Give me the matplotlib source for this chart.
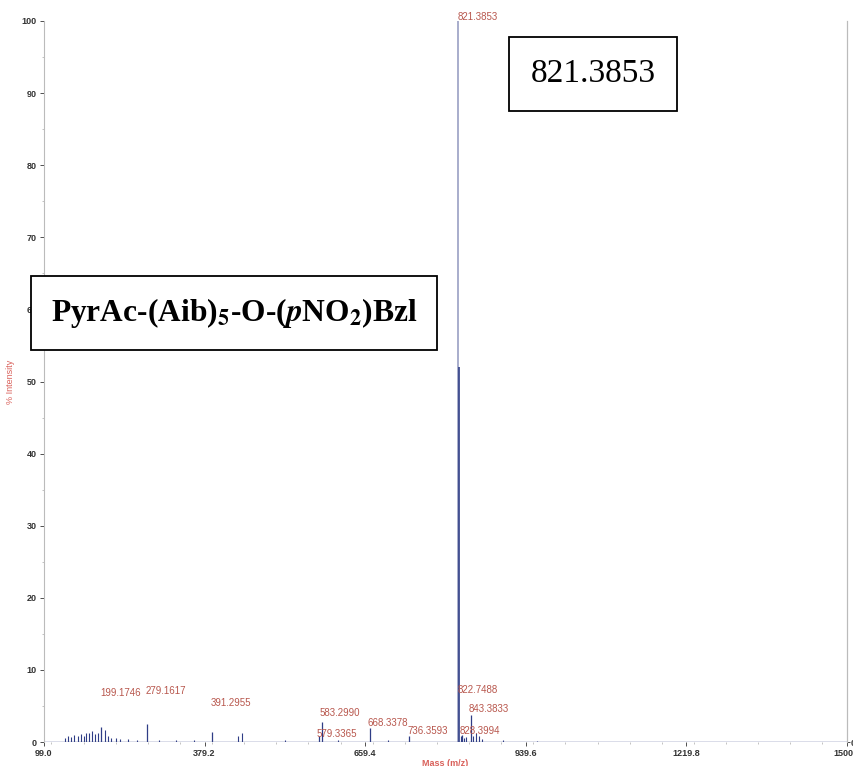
import matplotlib.pyplot as plt
from matplotlib.ticker import MultipleLocator

plt.rcParams['font.family'] = ['Liberation Sans', 'DejaVu Sans']
plt.rcParams['mathtext.fontset'] = 'stix'

# labelled peaks: m/z, % intensity, label position (m/z, %)
peak_mz = [199.1746, 279.1617, 391.2955, 579.3365, 583.2990, 668.3378,
           736.3593, 821.3853, 822.7488, 828.3994, 843.3833]
peak_int = [2.1, 2.5, 1.4, 0.8, 2.8, 1.9, 0.8, 100.0, 52.0, 1.0, 3.7]
label_xy = [(197, 6.8), (277, 7.1), (389, 5.4), (575, 1.1), (579, 4.0),
            (664, 2.6), (734, 1.5), (821, 100.6), (821, 7.2), (825, 1.5),
            (840, 4.6)]

# smaller unlabelled peaks
minor_mz = [135, 141, 147, 152, 158, 163, 168, 172, 177, 183, 188, 193, 205,
            210, 216, 224, 232, 246, 262, 300, 330, 360, 438, 445, 520, 612,
            700, 826, 832, 836, 848, 852, 858, 863, 900, 960]
minor_int = [0.6, 0.8, 0.7, 1.0, 0.9, 1.1, 0.9, 1.2, 1.3, 1.5, 1.1, 1.2, 1.6,
             0.8, 0.6, 0.5, 0.4, 0.4, 0.3, 0.3, 0.3, 0.3, 0.9, 1.2, 0.3, 0.3,
             0.3, 0.8, 0.6, 0.7, 0.9, 1.3, 0.8, 0.4, 0.3, 0.2]

xticks = [99.0, 379.2, 659.4, 939.6, 1219.8, 1500.0]

fig = plt.figure(figsize=(8.54, 7.66), dpi=100)
ax = fig.add_axes([0.0515, 0.0313, 0.9403, 0.9413])

peak_col = '#2f3d86'
ax.vlines(minor_mz, 0, minor_int, color=peak_col, lw=0.8)
for mz, h in zip(peak_mz, peak_int):
    c = '#9aa0c4' if mz == 821.3853 else peak_col
    ax.vlines(mz, 0, h, color=c, lw=1.2 if h > 40 else 0.9)
ax.axhline(0, color='#4a5590', lw=1.0)

for mz, (lx, ly) in zip(peak_mz, label_xy):
    ax.text(lx, ly, f'{mz:.4f}', color='#b8574d', fontsize=7,
            va='center', ha='left', clip_on=False)

ax.set_xlim(99.0, 1500.0)
ax.set_ylim(0, 100)
ax.set_xticks(xticks)
ax.set_xticklabels([f'{t:.1f}' for t in xticks], fontweight='bold')
ax.xaxis.set_minor_locator(MultipleLocator(56.04))
ax.yaxis.set_major_locator(MultipleLocator(10))
ax.yaxis.set_minor_locator(MultipleLocator(5))
ax.tick_params(labelsize=6.5, colors='#333333', length=3, width=0.6, pad=2)
ax.tick_params(which='minor', length=1.5, width=0.5, colors='#aaaaaa')
for lbl in ax.get_yticklabels():
    lbl.set_fontweight('bold')

ax.spines['top'].set_visible(False)
ax.spines['bottom'].set_visible(False)
ax.spines['left'].set_color('#bbbbbb')
ax.spines['right'].set_color('#bbbbbb')

ax2 = ax.twinx()
ax2.set_ylim(0, 100)
ax2.set_yticks([0])
ax2.set_yticklabels(['0'], fontweight='bold')
ax2.tick_params(labelsize=6.5, colors='#333333', length=2, width=0.6, pad=0.5)
for s in ['top', 'bottom', 'left']:
    ax2.spines[s].set_visible(False)
ax2.spines['right'].set_color('#bbbbbb')

ax.set_ylabel('% Intensity', color='#d9605a', fontsize=6.5)
ax.yaxis.set_label_coords(-0.036, 0.5)
ax.set_xlabel('Mass (m/z)', color='#d9605a', fontsize=6.5, fontweight='bold',
              labelpad=1)

ax.text(0.684, 0.927, '821.3853', transform=ax.transAxes, fontsize=24,
        family='Liberation Serif', ha='center', va='center',
        bbox=dict(boxstyle='square,pad=0.65', fc='white', ec='black', lw=1.3))

ax.text(0.2366, 0.595,
        r'PyrAc-(Aib)$_{\mathbf{5}}$-O-($\mathbfit{p}$NO$_{\mathbf{2}}$)Bzl',
        transform=ax.transAxes, fontsize=22.7, fontweight='bold',
        family='Liberation Serif', ha='center', va='center',
        bbox=dict(boxstyle='square,pad=0.62', fc='white', ec='black', lw=1.3))

fig.savefig('out.png', dpi=100)
